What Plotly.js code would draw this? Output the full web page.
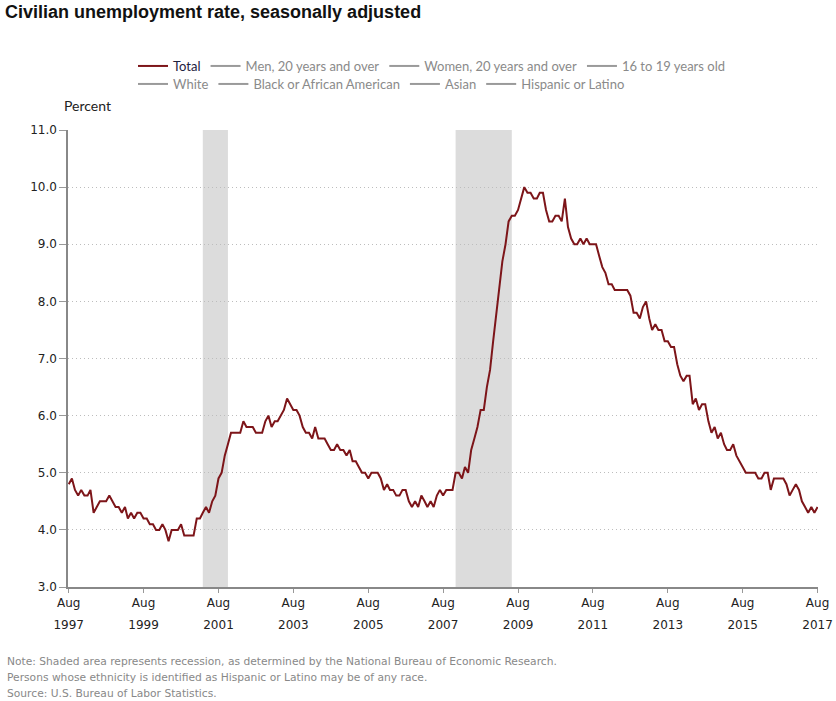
<!DOCTYPE html>
<html>
<head>
<meta charset="utf-8">
<script src="https://cdn.plot.ly/plotly-3.0.1.min.js"></script>
<style>html,body{margin:0;padding:0;background:#fff;}#chart{width:836px;height:701px;}</style>
</head>
<body>
<div id="chart"></div>
<script>
// Monthly civilian unemployment rate (%), seasonally adjusted, Aug 1997 - Aug 2017
const startYear = 1997, startMonth = 8;
const v1997 = [4.8,4.9,4.7,4.6,4.7];
const v1998 = [4.6,4.6,4.7,4.3,4.4,4.5,4.5,4.5,4.6,4.5,4.4,4.4];
const v1999 = [4.3,4.4,4.2,4.3,4.2,4.3,4.3,4.2,4.2,4.1,4.1,4.0];
const v2000 = [4.0,4.1,4.0,3.8,4.0,4.0,4.0,4.1,3.9,3.9,3.9,3.9];
const v2001 = [4.2,4.2,4.3,4.4,4.3,4.5,4.6,4.9,5.0,5.3,5.5,5.7];
const v2002 = [5.7,5.7,5.7,5.9,5.8,5.8,5.8,5.7,5.7,5.7,5.9,6.0];
const v2003 = [5.8,5.9,5.9,6.0,6.1,6.3,6.2,6.1,6.1,6.0,5.8,5.7];
const v2004 = [5.7,5.6,5.8,5.6,5.6,5.6,5.5,5.4,5.4,5.5,5.4,5.4];
const v2005 = [5.3,5.4,5.2,5.2,5.1,5.0,5.0,4.9,5.0,5.0,5.0,4.9];
const v2006 = [4.7,4.8,4.7,4.7,4.6,4.6,4.7,4.7,4.5,4.4,4.5,4.4];
const v2007 = [4.6,4.5,4.4,4.5,4.4,4.6,4.7,4.6,4.7,4.7,4.7,5.0];
const v2008 = [5.0,4.9,5.1,5.0,5.4,5.6,5.8,6.1,6.1,6.5,6.8,7.3];
const v2009 = [7.8,8.3,8.7,9.0,9.4,9.5,9.5,9.6,9.8,10.0,9.9,9.9];
const v2010 = [9.8,9.8,9.9,9.9,9.6,9.4,9.4,9.5,9.5,9.4,9.8,9.3];
const v2011 = [9.1,9.0,9.0,9.1,9.0,9.1,9.0,9.0,9.0,8.8,8.6,8.5];
const v2012 = [8.3,8.3,8.2,8.2,8.2,8.2,8.2,8.1,7.8,7.8,7.7,7.9];
const v2013 = [8.0,7.7,7.5,7.6,7.5,7.5,7.3,7.3,7.2,7.2,6.9,6.7];
const v2014 = [6.6,6.7,6.7,6.2,6.3,6.1,6.2,6.2,5.9,5.7,5.8,5.6];
const v2015 = [5.7,5.5,5.4,5.4,5.5,5.3,5.2,5.1,5.0,5.0,5.0,5.0];
const v2016 = [4.9,4.9,5.0,5.0,4.7,4.9,4.9,4.9,4.9,4.8,4.6,4.7];
const v2017 = [4.8,4.7,4.5,4.4,4.3,4.4,4.3,4.4];

const totalRate = [].concat(v1997,v1998,v1999,v2000,v2001,v2002,v2003,v2004,v2005,v2006,
  v2007,v2008,v2009,v2010,v2011,v2012,v2013,v2014,v2015,v2016,v2017);

// Recession periods (NBER)
const recessionStarts = ['2001-03-01','2007-12-01'];
const recessionEnds   = ['2001-11-01','2009-06-01'];

// Tick labels
const tickDates = ['1997-08-01','1999-08-01','2001-08-01','2003-08-01','2005-08-01','2007-08-01','2009-08-01','2011-08-01','2013-08-01','2015-08-01','2017-08-01'];
const tickMonthText = ['Aug','Aug','Aug','Aug','Aug','Aug','Aug','Aug','Aug','Aug','Aug'];
const tickYearText = ['1997','1999','2001','2003','2005','2007','2009','2011','2013','2015','2017'];
const yTicks = [3,4,5,6,7,8,9,10,11];

const legendRow1 = ['Total','Men, 20 years and over','Women, 20 years and over','16 to 19 years old'];
const legendRow2 = ['White','Black or African American','Asian','Hispanic or Latino'];

function pad(n){return (n<10?'0':'')+n;}
const months = totalRate.map((_, i) => {
  const m0 = startMonth - 1 + i;
  const y = startYear + Math.floor(m0 / 12);
  const m = (m0 % 12) + 1;
  return y + '-' + pad(m) + '-01';
});

const grayText = '#8a8a8a';
const traces = [];
traces.push({
  x: months, y: totalRate, type: 'scatter', mode: 'lines',
  name: '<span style="color:#1d2240">' + legendRow1[0] + '</span>',
  line: {color: '#7d1519', width: 2},
  legend: 'legend', hoverinfo: 'x+y'
});
// series shown only as (unselected) legend entries, no data drawn
legendRow1.slice(1).forEach(n => traces.push({
  x: [months[0]], y: [null], type: 'scatter', mode: 'lines',
  name: '<span style="color:' + grayText + '">' + n + '</span>',
  line: {color: '#9a9a9a', width: 2}, legend: 'legend', hoverinfo: 'skip'
}));
legendRow2.forEach(n => traces.push({
  x: [months[0]], y: [null], type: 'scatter', mode: 'lines',
  name: '<span style="color:' + grayText + '">' + n + '</span>',
  line: {color: '#9a9a9a', width: 2}, legend: 'legend2', hoverinfo: 'skip'
}));
// invisible trace to carry the year labels axis
traces.push({x: [tickDates[0]], y: [null], xaxis: 'x2', yaxis: 'y', showlegend: false, hoverinfo: 'skip', mode: 'lines'});

const shapes = recessionStarts.map((s, i) => ({
  type: 'rect', xref: 'x', yref: 'paper', x0: s, x1: recessionEnds[i], y0: 0, y1: 1,
  fillcolor: '#dcdcdc', line: {width: 0}, layer: 'below'
}));

const xRange = ['1997-07-25', '2017-08-05'];
const legendCommon = {
  orientation: 'h', xref: 'container', yref: 'container', xanchor: 'left', yanchor: 'top',
  font: {family: 'Lato, sans-serif', size: 13, color: grayText},
  bgcolor: 'rgba(0,0,0,0)', itemclick: false, itemdoubleclick: false, traceorder: 'normal',
  tracegroupgap: 0, itemwidth: 30
};

const tickFont = {family: 'DejaVu Sans, Verdana, sans-serif', size: 12, color: '#222'};
const noteFont = {family: 'DejaVu Sans, Verdana, sans-serif', size: 10.7, color: '#888'};

const layout = {
  width: 836, height: 701,
  paper_bgcolor: '#fff', plot_bgcolor: '#fff',
  margin: {l: 68, r: 18, t: 130, b: 114},
  font: {family: 'DejaVu Sans, Verdana, sans-serif', size: 12, color: '#333'},
  title: {
    text: '<b>Civilian unemployment rate, seasonally adjusted</b>',
    x: 5/836, xanchor: 'left', xref: 'container',
    y: 1 - 12/701, yanchor: 'middle', yref: 'container',
    font: {family: 'Liberation Sans, Arial, sans-serif', size: 18, color: '#111'}
  },
  showlegend: true,
  legend: Object.assign({}, legendCommon, {x: 133/836, y: 1 - 51/701}),
  legend2: Object.assign({}, legendCommon, {x: 133/836, y: 1 - 69/701}),
  xaxis: {
    type: 'date', range: xRange,
    tickmode: 'array', tickvals: tickDates, ticktext: tickMonthText,
    ticks: 'outside', ticklen: 4, tickcolor: '#999', tickwidth: 1,
    showline: true, linecolor: '#888', linewidth: 1.5,
    showgrid: false, zeroline: false,
    tickfont: tickFont, anchor: 'y'
  },
  xaxis2: {
    type: 'date', range: xRange, overlaying: 'x', side: 'bottom', anchor: 'y',
    tickmode: 'array', tickvals: tickDates, ticktext: tickYearText,
    ticks: '', showline: false, showgrid: false, zeroline: false,
    ticklabelstandoff: 29, tickfont: tickFont
  },
  yaxis: {
    range: [3, 11], tickmode: 'array', tickvals: yTicks, tickformat: '.1f',
    ticks: 'outside', ticklen: 7, tickcolor: '#999',
    showline: true, linecolor: '#888', linewidth: 1.5,
    showgrid: true, gridcolor: '#bdbdbd', griddash: '1px,3px', gridwidth: 1,
    zeroline: false, tickfont: tickFont
  },
  shapes: shapes,
  annotations: [
    {text: 'Percent', xref: 'paper', yref: 'paper', x: (62-68)/750, y: 1 + (130-106)/457,
     xanchor: 'left', yanchor: 'middle', showarrow: false,
     font: {family: 'Lato, sans-serif', size: 14, color: '#222'}},
    {text: 'Note: Shaded area represents recession, as determined by the National Bureau of Economic Research.',
     xref: 'paper', yref: 'paper', x: (5-68)/750, y: (587-661)/457, xanchor: 'left', yanchor: 'middle',
     showarrow: false, font: noteFont},
    {text: 'Persons whose ethnicity is identified as Hispanic or Latino may be of any race.',
     xref: 'paper', yref: 'paper', x: (5-68)/750, y: (587-677)/457, xanchor: 'left', yanchor: 'middle',
     showarrow: false, font: noteFont},
    {text: 'Source: U.S. Bureau of Labor Statistics.',
     xref: 'paper', yref: 'paper', x: (5-68)/750, y: (587-693)/457, xanchor: 'left', yanchor: 'middle',
     showarrow: false, font: noteFont}
  ]
};

Plotly.newPlot('chart', traces, layout, {displayModeBar: false, responsive: false});
</script>
</body>
</html>
